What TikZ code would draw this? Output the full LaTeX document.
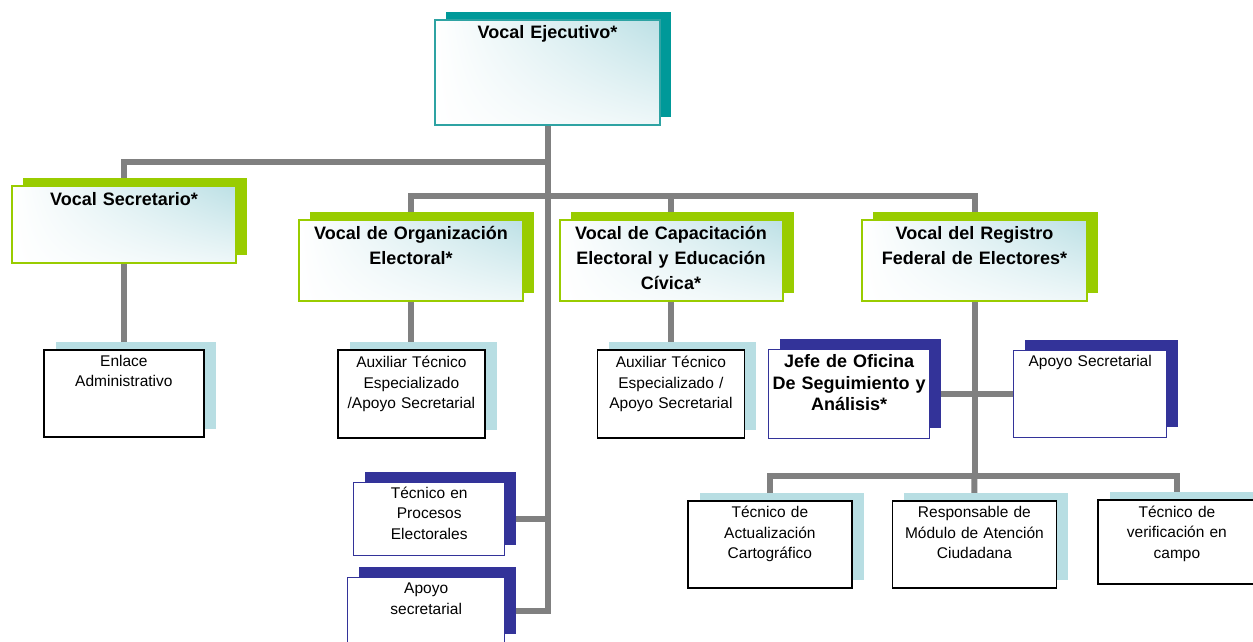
\documentclass[tikz,border=0pt]{standalone}
\usepackage{fontspec}
\setmainfont{Liberation Sans}
\usetikzlibrary{calc, shadows, shadings, backgrounds}

\definecolor{cTeal}{HTML}{009999}
\definecolor{cTealLine}{HTML}{2EA3A3}
\definecolor{cGreen}{HTML}{99CC00}
\definecolor{cNavy}{HTML}{333399}
\definecolor{cPale}{HTML}{B8DEE3}
\definecolor{cGlow}{HTML}{BCE0E5}
\definecolor{cGray}{HTML}{808080}

\begin{document}
\begin{tikzpicture}[x=1pt, y=-1pt,
  every node/.style={inner xsep=2pt, inner ysep=0pt, align=center, anchor=north west},
  cLine/.style={draw=cGray, line width=6pt},
  cHead/.style={font=\fontsize{18}{25}\selectfont\bfseries},
  cBody/.style={font=\fontsize{15.5}{20.5}\selectfont},
  cSize/.style n args={3}{text width=#1, text height=#2, text depth=#3},
  cVocal/.style={cHead, shade, upper left=white, lower left=white, upper right=cGlow, lower right=cGlow!25!white, line width=2pt},
  cTealBox/.style={cVocal, draw=cTealLine, general shadow={fill=cTeal, shadow xshift=11pt, shadow yshift=8pt}},
  cGreenBox/.style={cVocal, draw=cGreen, general shadow={fill=cGreen, shadow xshift=11pt, shadow yshift=8pt}},
  cNavyBox/.style={cBody, draw=cNavy, fill=white, line width=1.4pt, general shadow={fill=cNavy, shadow xshift=11.5pt, shadow yshift=10.5pt}},
  cPaleBox/.style={cBody, draw=black, fill=white, line width=1.8pt, general shadow={fill=cPale, shadow xshift=12pt, shadow yshift=8pt}}
]
\useasboundingbox (0,0) rectangle (1253,641);

% vocales
\node[cTealBox, cSize={221pt}{18pt}{87pt}] (nEjec) at (434,19) {Vocal Ejecutivo*};
\node[cGreenBox, cSize={220pt}{19pt}{58pt}] (nSecr) at (11,185) {Vocal Secretario*};
\node[cGreenBox, cSize={220pt}{19pt}{62pt}] (nOrga) at (298,219) {Vocal de Organización\\Electoral*};
\node[cGreenBox, cSize={219pt}{19pt}{62pt}] (nCapa) at (558.5,219) {Vocal de Capacitación\\Electoral y Educación\\Cívica*};
\node[cGreenBox, cSize={221pt}{19pt}{62pt}] (nRegi) at (861,219) {Vocal del Registro\\Federal de Electores*};

% puestos
\node[cPaleBox, cSize={156pt}{16.5pt}{70.5pt}] (nEnla) at (43,349) {Enlace\\Administrativo};
\node[cPaleBox, cSize={143pt}{18pt}{70pt}] (nAuxO) at (337,349) {Auxiliar Técnico\\Especializado\\/Apoyo Secretarial};
\node[cPaleBox, cSize={143pt}{18pt}{70pt}] (nAuxC) at (596.5,349) {Auxiliar Técnico\\Especializado /\\Apoyo Secretarial};
\node[cNavyBox, font=\fontsize{18}{21.5}\selectfont\bfseries, cSize={157pt}{18pt}{71pt}] (nJefe) at (768,349) {Jefe de Oficina\\De Seguimiento y\\Análisis*};
\node[cNavyBox, cSize={149pt}{15.5pt}{71pt}] (nApoR) at (1013,350) {Apoyo Secretarial};
\node[cNavyBox, cSize={147pt}{15.5pt}{57.5pt}] (nProc) at (353,482) {Técnico en\\Procesos\\Electorales};
\node[cNavyBox, cSize={153pt}{16pt}{51pt}] (nApoS) at (347,577) {Apoyo\\secretarial};
\node[cPaleBox, cSize={160pt}{17pt}{70pt}] (nActu) at (687,500) {Técnico de\\Actualización\\Cartográfico};
\node[cPaleBox, cSize={160pt}{17pt}{70pt}] (nResp) at (891.5,500) {Responsable de\\Módulo de Atención\\Ciudadana};
\node[cPaleBox, cSize={154pt}{17.5pt}{66.5pt}] (nVeri) at (1097,499) {Técnico de\\verificación en\\campo};

\coordinate (cTopJoin) at (nEjec.south |- 0,162);
\coordinate (cMidJoin) at (nEjec.south |- 0,196);
\coordinate (cLowJoin) at (nRegi.south |- 0,476);

\begin{scope}[on background layer]
\draw[cLine] (nEjec.south) |- (nApoS.east);
\draw[cLine] (nProc.east) -- (nProc.east -| nEjec.south);
\draw[cLine] (cTopJoin) -| (nEnla.north);
\draw[cLine] (nAuxO.north) |- (cMidJoin) -| (cLowJoin);
\draw[cLine] (cMidJoin -| nAuxC.north) -- (nAuxC.north);
\draw[cLine] (nActu.north) |- (cLowJoin) -| (nVeri.north);
\draw[cLine] (cLowJoin) -- (nResp.north);
\draw[cLine] (nJefe.east) -- (nJefe.east -| nApoR.west);
\end{scope}

\end{tikzpicture}
\end{document}
